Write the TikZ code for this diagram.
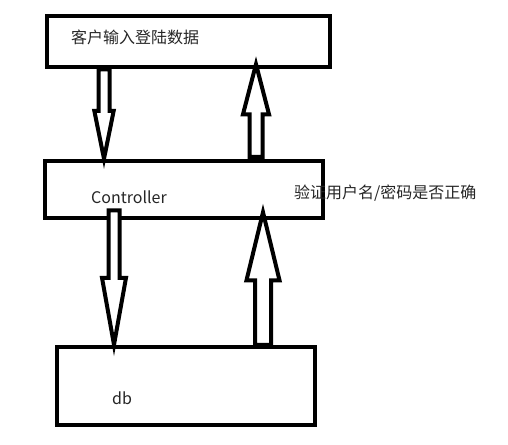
\documentclass[tikz,border=0pt]{standalone}
\usepackage{fontspec}
\setmainfont{Noto Sans CJK SC}
\usetikzlibrary{calc}
\tikzset{
    plain-box/.style = {draw=black, fill=white, line width=4.5pt, rectangle, inner sep=0pt},
    box-text/.style = {text=black!85, font=\fontsize{16}{19}\selectfont, inner sep=0pt, anchor=west},
    block-arrow/.style = {draw=black, fill=white, line width=4pt, line join=miter},
}
% hollow block arrow: start, tip, shaft half width, head half width, head length
\newcommand\hollowarrow[5]{%
    \coordinate (hb) at ($(#2)!#5!(#1)$);
    \draw[block-arrow] ($(#1)!#3!90:(#2)$) -- ($(hb)!#3!90:(#2)$) -- ($(hb)!#4!90:(#2)$)
        -- (#2) -- ($(hb)!#4!-90:(#2)$) -- ($(hb)!#3!-90:(#2)$) -- ($(#1)!#3!-90:(#2)$) -- cycle;
}

\begin{document}
\begin{tikzpicture}[x=1pt, y=-1pt]
\useasboundingbox (0,0) rectangle (508,444);
\node[plain-box, minimum width=283pt, minimum height=51pt] (cust) at (188.5,41.5) {};
\node[plain-box, minimum width=278pt, minimum height=57pt] (ctrl) at (184,189.5) {};
\node[plain-box, minimum width=258pt, minimum height=78pt] (db) at (186,386) {};

\node[box-text] (custtext) at (71,37) {客户输入登陆数据};
\node[box-text] (ctrltext) at (91,197) {Controller};
\node[box-text] (dbtext) at (112,398) {db};
\node[box-text] (check) at (294,193) {验证用户名/密码是否正确};

% arrows between the boxes
\coordinate (d1s) at (cust.south -| 104,0);
\coordinate (d1t) at (ctrl.north -| 104,0);
\coordinate (u1s) at ([yshift=2pt]ctrl.north -| 256,0);
\coordinate (u1t) at ([yshift=5pt]cust.south -| 256,0);
\coordinate (d2s) at ([yshift=10pt]ctrl.south -| 114,0);
\coordinate (d2t) at (db.north -| 114,0);
\coordinate (u2s) at (db.north -| 263,0);
\coordinate (u2t) at ([yshift=8pt]ctrl.south -| 263,0);
\hollowarrow{d1s}{d1t}{5.5pt}{9.7pt}{48pt}
\hollowarrow{u1s}{u1t}{6.5pt}{13pt}{50pt}
\hollowarrow{d2s}{d2t}{5.5pt}{12pt}{67pt}
\hollowarrow{u2s}{u2t}{8pt}{16.5pt}{68pt}
\end{tikzpicture}
\end{document}
